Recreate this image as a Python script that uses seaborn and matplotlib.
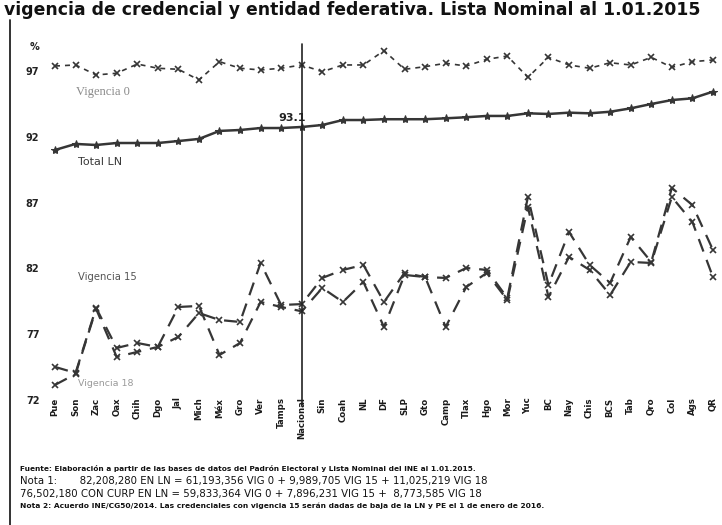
import matplotlib
matplotlib.use("Agg")
import matplotlib.pyplot as plt
import seaborn as sns
import pandas as pd

# entidades en el orden de la grafica
entidades = ["Pue", "Son", "Zac", "Oax", "Chih", "Dgo", "Jal", "Mich", "Méx", "Gro",
             "Ver", "Tamps", "Nacional", "Sin", "Coah", "NL", "DF", "SLP", "Gto", "Camp",
             "Tlax", "Hgo", "Mor", "Yuc", "BC", "Nay", "Chis", "BCS", "Tab", "Qro",
             "Col", "Ags", "QR"]

total_ln = [91.31, 91.77, 91.69, 91.84, 91.84, 91.84, 91.99, 92.15, 92.76, 92.83,
            92.98, 92.98, 93.06, 93.21, 93.59, 93.59, 93.65, 93.65, 93.65, 93.72,
            93.80, 93.90, 93.90, 94.10, 94.05, 94.15, 94.10, 94.22, 94.48, 94.81,
            95.11, 95.24, 95.75]

vig_0 = [97.70, 97.78, 97.02, 97.15, 97.85, 97.53, 97.45, 96.64, 98.03, 97.53,
         97.40, 97.53, 97.78, 97.27, 97.78, 97.78, 98.87, 97.45, 97.65, 97.91,
         97.70, 98.21, 98.46, 96.84, 98.36, 97.78, 97.53, 97.95, 97.78, 98.36,
         97.60, 98.03, 98.16]

vig_15 = [74.80, 74.34, 79.29, 76.24, 76.62, 76.32, 79.36, 79.44, 75.71, 76.62,
          79.74, 79.36, 79.03, 80.81, 79.74, 81.26, 77.84, 81.80, 81.64, 77.84,
          80.88, 81.95, 79.89, 86.97, 80.12, 83.17, 82.18, 80.27, 82.79, 82.71,
          87.73, 85.83, 81.64]

vig_18 = [73.43, 74.26, 79.21, 75.56, 75.94, 76.32, 77.08, 78.90, 78.37, 78.22,
          82.71, 79.51, 79.58, 81.57, 82.18, 82.56, 79.74, 81.95, 81.64, 81.57,
          82.33, 82.18, 80.05, 87.73, 81.04, 85.07, 82.56, 81.19, 84.69, 82.79,
          88.42, 87.12, 83.70]

ytick_pos = [72.3, 77.3, 82.3, 87.3, 92.3, 97.3]
ytick_lab = ["72", "77", "82", "87", "92", "97"]

titulo = "vigencia de credencial y entidad federativa. Lista Nominal al 1.01.2015"
notas = [
    "Fuente: Elaboración a partir de las bases de datos del Padrón Electoral y Lista Nominal del INE al 1.01.2015.",
    "Nota 1:       82,208,280 EN LN = 61,193,356 VIG 0 + 9,989,705 VIG 15 + 11,025,219 VIG 18",
    "76,502,180 CON CURP EN LN = 59,833,364 VIG 0 + 7,896,231 VIG 15 +  8,773,585 VIG 18",
    "Nota 2: Acuerdo INE/CG50/2014. Las credenciales con vigencia 15 serán dadas de baja de la LN y PE el 1 de enero de 2016.",
]

sns.set_theme(style="white")
plt.rcParams["font.family"] = ["DejaVu Sans"]

W, H = 722, 525
fig = plt.figure(figsize=(W / 100, H / 100), dpi=100)
ax = fig.add_axes([45 / W, 1 - 410 / H, 1 - 45 / W, 370 / H])


def px(x, y):
    return x / W, 1 - y / H


df = pd.DataFrame({"entidad": entidades, "total": total_ln, "v0": vig_0,
                   "v15": vig_15, "v18": vig_18})

gris = "#363636"
sns.lineplot(data=df, x="entidad", y="v0", ax=ax, sort=False, color=gris, lw=1.2,
             linestyle=(0, (3, 3)), marker="x", markersize=4, markeredgewidth=1.2,
             markeredgecolor=gris)
sns.lineplot(data=df, x="entidad", y="total", ax=ax, sort=False, color=gris, lw=1.8,
             marker="*", markersize=6, markeredgecolor=gris)
sns.lineplot(data=df, x="entidad", y="v15", ax=ax, sort=False, color=gris, lw=1.6,
             linestyle=(0, (6, 4)), marker="x", markersize=4, markeredgewidth=1.2,
             markeredgecolor=gris)
sns.lineplot(data=df, x="entidad", y="v18", ax=ax, sort=False, color=gris, lw=1.6,
             linestyle=(0, (6, 4)), marker="x", markersize=4, markeredgewidth=1.2,
             markeredgecolor=gris)

ax.axvline("Nacional", ymin=5 / 370, ymax=366 / 370, color="#222222", lw=1.2)

ax.set_xlim(-0.486, 32.44)
ax.set_ylim(71.52, 99.68)
ax.set_yticks(ytick_pos)
ax.set_yticklabels(ytick_lab, fontsize=7, fontweight="bold", color="#222222")
ax.set_xticks(range(len(entidades)))
ax.set_xticklabels(entidades, rotation=90, fontsize=6.2, fontweight="bold",
                   color="#1a1a1a", va="top")
ax.tick_params(axis="x", length=0, pad=-9)
ax.tick_params(axis="y", length=0, pad=4)
ax.set_xlabel("")
ax.set_ylabel("")
for s in ax.spines.values():
    s.set_visible(False)

# textos sobre la grafica
fig.text(*px(278, 118), "93.1", fontsize=8, fontweight="bold", color="#222222", va="center")
fig.text(*px(76, 92), "Vigencia 0", fontsize=9, color="#8a8a8a", va="center",
         family=["Liberation Serif", "DejaVu Serif"])
fig.text(*px(78, 162), "Total LN", fontsize=8, color="#3a3a3a", va="center")
fig.text(*px(78, 277), "Vigencia 15", fontsize=7.2, color="#555555", va="center")
fig.text(*px(78, 383), "Vigencia 18", fontsize=6.8, color="#9a9a9a", va="center")
fig.text(*px(30, 47), "%", fontsize=7, fontweight="bold", color="#222222", va="center")

fig.text(*px(4, 15), titulo, fontsize=12.4, fontweight="bold", color="#111111",
         va="baseline")

fig.add_artist(plt.Line2D([10 / W, 10 / W], [0, 1 - 20 / H], color="#222222", lw=1.3))

ys = [468, 481, 494, 506]
sizes = [5.3, 7.3, 7.3, 5.4]
weights = ["bold", "normal", "normal", "bold"]
for t, y, s, w in zip(notas, ys, sizes, weights):
    fig.text(*px(20, y), t, fontsize=s, fontweight=w, color="#111111", va="center")

fig.savefig("out.png", dpi=100)
